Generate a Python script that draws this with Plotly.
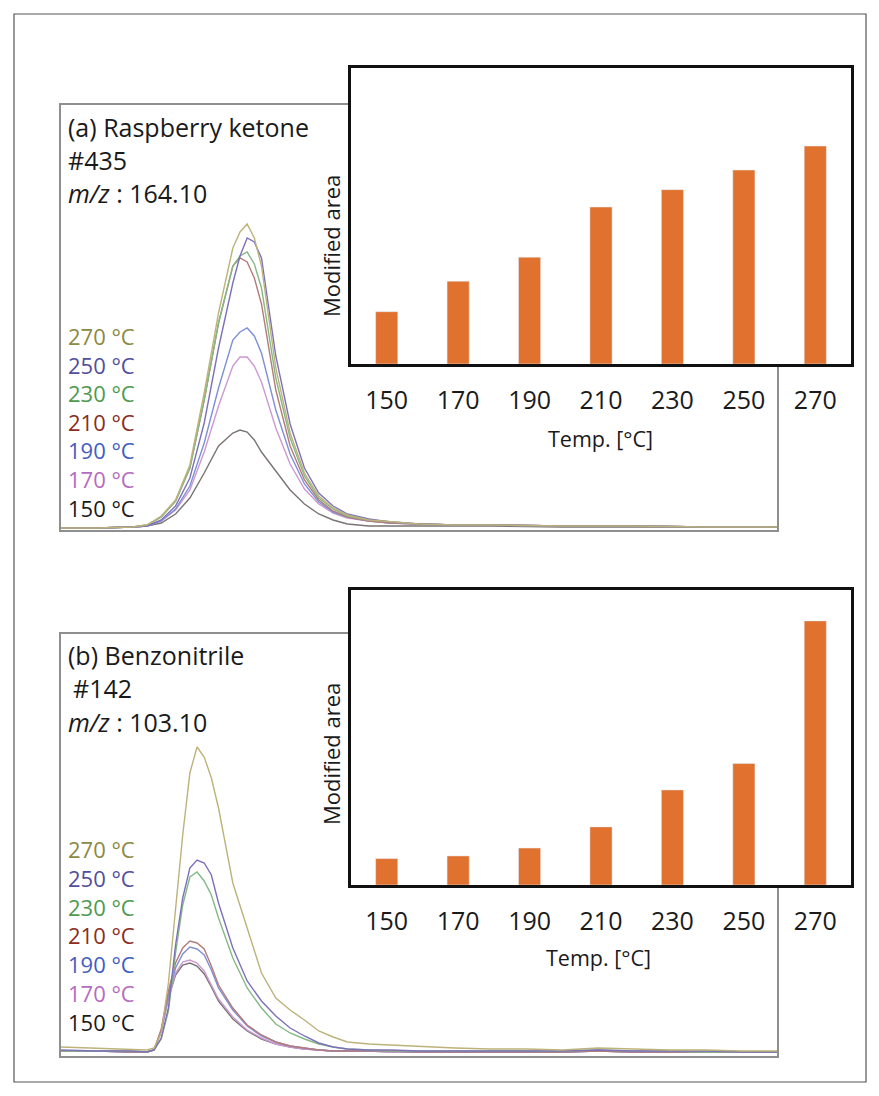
import plotly.graph_objects as go

PAGE_W, PAGE_H = 879, 1096
OFF = 8  # page body margin
W, H = PAGE_W - OFF, PAGE_H - OFF

# ---------------- data ----------------
temps = ["150", "170", "190", "210", "230", "250", "270"]
# normalised "modified area" (270 °C = 1)
area_a = [0.24, 0.38, 0.49, 0.72, 0.80, 0.89, 1.00]
area_b = [0.10, 0.11, 0.14, 0.22, 0.36, 0.46, 1.00]

series_names = ["270 °C", "250 °C", "230 °C", "210 °C", "190 °C", "170 °C", "150 °C"]
label_colors = ["#8c8945", "#514f9c", "#4e9a50", "#8b2b22", "#3f5ebf", "#b56cc0", "#1a1a1a"]
line_colors = ["#bdb27a", "#7d70bb", "#83b983", "#b47b78", "#7e8fd6", "#cc98d2", "#7a7373"]

# chromatogram (a) – retention axis (a.u.) and intensities (a.u.)
t_a = [0, 5, 10, 12, 14, 16, 18, 20, 22, 24, 25, 26, 27, 28, 30, 32, 34, 36, 38, 40,
       43, 46, 50, 55, 60, 70, 80, 90, 100]
a_270 = [0, 0, 1, 3, 12, 28, 63, 135, 215, 280, 296, 304, 290, 262, 160, 95, 55, 32, 20, 13, 8, 6, 4, 3, 3, 2, 2, 1, 1]
a_250 = [0, 0, 1, 2, 8, 22, 50, 105, 180, 245, 272, 290, 286, 270, 172, 104, 60, 35, 22, 14, 9, 6, 4, 3, 3, 2, 2, 1, 1]
a_230 = [0, 0, 1, 3, 11, 27, 60, 128, 205, 262, 272, 276, 264, 240, 150, 90, 52, 30, 19, 12, 8, 6, 4, 3, 3, 2, 2, 1, 1]
a_210 = [0, 0, 1, 3, 11, 27, 60, 128, 205, 262, 270, 266, 250, 224, 138, 82, 48, 28, 17, 11, 7, 5, 4, 3, 3, 2, 2, 1, 1]
a_190 = [0, 0, 1, 2, 7, 19, 42, 85, 140, 188, 196, 200, 192, 175, 118, 74, 44, 26, 16, 11, 7, 5, 4, 3, 3, 2, 2, 1, 1]
a_170 = [0, 0, 1, 2, 7, 18, 38, 76, 122, 162, 171, 171, 162, 146, 100, 64, 39, 24, 15, 10, 7, 5, 4, 3, 3, 2, 2, 1, 1]
a_150 = [0, 0, 1, 2, 5, 14, 30, 55, 82, 95, 98, 96, 88, 76, 57, 38, 24, 14, 8, 4, 2, 2, 2, 2, 2, 1, 1, 1, 1]

# chromatogram (b)
t_b = [0, 5, 10, 12, 13, 14, 15, 16, 17, 18, 19, 20, 21, 22, 24, 26, 28, 30, 32, 34, 36, 38, 40,
       43, 46, 50, 55, 60, 65, 70, 75, 80, 85, 90, 95, 100]
b_270 = [6, 5, 4, 3, 5, 20, 70, 148, 218, 280, 306, 296, 275, 245, 170, 125, 80, 55, 43, 33, 22, 16, 11, 9, 8, 6, 5, 4, 4, 3, 5, 4, 3, 3, 2, 2]
b_250 = [3, 2, 2, 1, 3, 15, 45, 108, 155, 185, 193, 190, 178, 150, 105, 72, 52, 37, 25, 17, 10, 6, 4, 3, 3, 2, 2, 2, 2, 2, 3, 2, 2, 2, 1, 1]
b_230 = [2, 2, 2, 1, 3, 14, 42, 100, 148, 176, 181, 172, 158, 135, 95, 65, 45, 29, 20, 14, 9, 6, 4, 3, 2, 2, 2, 2, 2, 2, 3, 2, 2, 1, 1, 1]
b_210 = [2, 2, 1, 1, 3, 24, 62, 90, 105, 112, 110, 104, 87, 68, 45, 28, 18, 11, 7, 5, 3, 2, 2, 2, 2, 1, 1, 1, 1, 1, 2, 1, 1, 1, 1, 1]
b_190 = [2, 2, 1, 1, 3, 22, 58, 85, 99, 106, 104, 98, 83, 65, 43, 27, 17, 11, 7, 5, 3, 2, 2, 2, 2, 1, 1, 1, 1, 1, 2, 1, 1, 1, 1, 1]
b_170 = [2, 2, 1, 1, 3, 22, 56, 80, 91, 93, 90, 82, 68, 54, 36, 23, 15, 9, 6, 4, 3, 2, 2, 2, 1, 1, 1, 1, 1, 1, 2, 1, 1, 1, 1, 1]
b_150 = [2, 2, 1, 1, 3, 22, 55, 78, 88, 90, 87, 79, 66, 52, 34, 22, 14, 9, 6, 4, 3, 2, 2, 2, 1, 1, 1, 1, 1, 1, 2, 1, 1, 1, 1, 1]

series_a = [a_270, a_250, a_230, a_210, a_190, a_170, a_150]
series_b = [b_270, b_250, b_230, b_210, b_190, b_170, b_150]

title_a = ["(a) Raspberry ketone", "#435", "<i>m/z</i> : 164.10"]
title_b = ["(b) Benzonitrile", "#142", "<i>m/z</i> : 103.10"]

# ---------------- helpers ----------------
FONT = "Open Sans"
BAR = "#e0712f"


def fx(p):
    return (p - OFF) / W


def fy(p):
    return 1 - (p - OFF) / H


fig = go.Figure()

for i in reversed(range(7)):
    fig.add_trace(go.Scatter(x=t_a, y=series_a[i], mode="lines", xaxis="x", yaxis="y",
                             line=dict(color=line_colors[i], width=1.4), showlegend=False,
                             name=series_names[i]))
for i in reversed(range(7)):
    fig.add_trace(go.Scatter(x=t_b, y=series_b[i], mode="lines", xaxis="x3", yaxis="y3",
                             line=dict(color=line_colors[i], width=1.4), showlegend=False,
                             name=series_names[i]))

fig.add_trace(go.Bar(x=temps, y=area_a, xaxis="x2", yaxis="y2", marker_color=BAR,
                     width=0.31, showlegend=False))
fig.add_trace(go.Bar(x=temps, y=area_b, xaxis="x4", yaxis="y4", marker_color=BAR,
                     width=0.31, showlegend=False))

chrom_ax = dict(showline=True, mirror=True, linecolor="#8f8f8f", linewidth=1.5,
                showgrid=False, zeroline=False, showticklabels=False, ticks="")
inset_y = dict(showline=True, mirror=True, linecolor="#111111", linewidth=2.5,
               showgrid=False, zeroline=False, showticklabels=False, ticks="")
inset_x = dict(type="category", showline=True, mirror=True, linecolor="#111111", linewidth=2.5,
               showgrid=False, zeroline=False, ticks="outside", ticklen=12,
               tickcolor="rgba(0,0,0,0)", tickfont=dict(family=FONT, size=25, color="#1a1a1a"))

fig.update_layout(
    width=W, height=H,
    margin=dict(l=0, r=0, t=0, b=0),
    paper_bgcolor="white", plot_bgcolor="white",
    showlegend=False,
    font=dict(family=FONT, color="#1a1a1a"),
    xaxis=dict(domain=[fx(61), fx(777)], range=[0, 100], anchor="y", **chrom_ax),
    yaxis=dict(domain=[fy(530), fy(105)], range=[-2, 423], anchor="x", **chrom_ax),
    xaxis2=dict(domain=[fx(351), fx(851)], anchor="y2", **inset_x),
    yaxis2=dict(domain=[fy(364), fy(68)], range=[0, 1.358], anchor="x2", **inset_y),
    xaxis3=dict(domain=[fx(61), fx(777)], range=[0, 100], anchor="y3", **chrom_ax),
    yaxis3=dict(domain=[fy(1056), fy(634)], range=[-3, 419], anchor="x3", **chrom_ax),
    xaxis4=dict(domain=[fx(351), fx(851)], anchor="y4", **inset_x),
    yaxis4=dict(domain=[fy(885), fy(590)], range=[0, 1.117], anchor="x4", **inset_y),
    bargap=0.69,
)

# outer frame
fig.add_shape(type="rect", xref="paper", yref="paper", x0=fx(14), x1=fx(866), y0=fy(1082), y1=fy(14),
              line=dict(color="#555555", width=1.2), fillcolor="rgba(0,0,0,0)", layer="below")

ann = []


def text(x, y, s, size, color="#1a1a1a", angle=0, xanchor="left"):
    ann.append(dict(x=fx(x), y=fy(y), xref="paper", yref="paper", text=s, showarrow=False,
                    xanchor=xanchor, yanchor="middle", textangle=angle,
                    font=dict(family=FONT, size=size, color=color)))


# titles
for s, y in zip(title_a, [127, 160, 193]):
    text(66, y, s, 25)
for s, y, x in zip(title_b, [655, 688, 722], [66, 71, 66]):
    text(x, y, s, 25)

# temperature labels
for i, s in enumerate(series_names):
    text(66, 336 + 28.6 * i, s, 22, label_colors[i])
    text(66, 849 + 28.8 * i, s, 22, label_colors[i])

# inset axis titles
text(331, 246, "Modified area", 22, angle=-90, xanchor="center")
text(331, 754, "Modified area", 22, angle=-90, xanchor="center")
text(600, 438, "Temp. [°C]", 21.5, xanchor="center")
text(598, 957, "Temp. [°C]", 21.5, xanchor="center")

fig.update_layout(annotations=ann)

fig.write_html("out.html")
